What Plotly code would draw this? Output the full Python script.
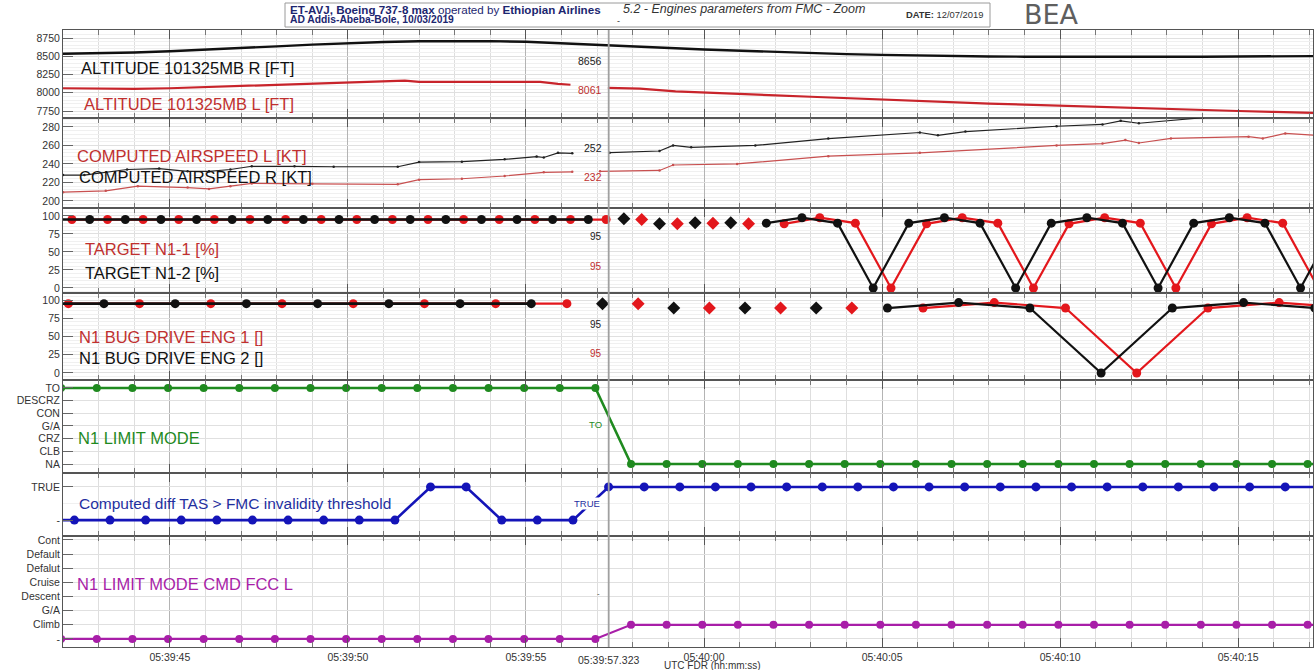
import pandas as pd
import plotly.graph_objects as go
from plotly.subplots import make_subplots

BASE = pd.Timestamp("2019-03-10 05:39:00")
CURSOR = 57.323

# ---------------- data (seconds after 05:39:00) ----------------
ALT_R_T = [42.0, 43.0, 44.0, 45.0, 46.0, 47.0, 48.0, 49.0, 50.0, 51.0, 52.0, 53.0, 54.0, 55.0, 55.4, 56.0, 57.0,
           57.3, 58.0, 59.2, 60.0, 61.0, 62.0, 63.0, 64.0, 65.0, 66.0, 67.0, 68.0, 69.0, 70.0, 71.0, 72.0, 73.0,
           74.0, 75.0, 76.0, 77.1]
ALT_R = [8535, 8540, 8552, 8568, 8588, 8612, 8636, 8660, 8680, 8696, 8706, 8710, 8708, 8698, 8690, 8677, 8662,
         8656, 8640, 8609, 8592, 8574, 8558, 8543, 8530, 8519, 8510, 8502, 8497, 8494, 8492, 8492, 8493, 8492,
         8494, 8497, 8500, 8502]

ALT_L_T = [42.0, 43.0, 44.0, 45.0, 46.0, 47.0, 48.0, 49.0, 50.0, 51.0, 51.6, 52.0, 53.0, 54.0, 55.0, 55.4, 55.9, 56.25]
ALT_L = [8062, 8060, 8052, 8062, 8078, 8095, 8110, 8124, 8138, 8150, 8165, 8150, 8152, 8152, 8150, 8148, 8122, 8110]
ALT_L2_T = [57.3, 58.2, 59.2, 60.0, 61.0, 62.0, 63.0, 64.0, 65.0, 66.0, 67.0, 68.0, 69.0, 70.0, 71.0, 72.0,
            73.0, 74.0, 75.0, 76.0, 77.1]
ALT_L2 = [8066, 8056, 8018, 8005, 7985, 7965, 7945, 7925, 7905, 7888, 7870, 7852, 7838, 7822, 7806, 7792,
          7778, 7764, 7750, 7738, 7725]

CAS_R_T = [42.0, 42.6, 43.8, 44.7, 45.5, 46.1, 46.7, 47.3, 48.5, 49.6, 51.4, 52.0, 53.2, 54.4, 55.3, 55.5, 55.9, 56.3]
CAS_R = [228, 228, 234, 235, 232, 232, 234, 237.5, 237.5, 237, 237, 242, 242.5, 245, 248, 247, 252, 251.5]
CAS_R2_T = [57.35, 58.75, 59.13, 59.64, 61.44, 63.49, 66.06, 66.57, 67.34, 69.9, 71.19, 71.7, 72.21, 74.01]
CAS_R2 = [252.2, 254, 260, 258, 260, 267.5, 274, 271, 275, 280.8, 282.7, 286.6, 284, 290]

CAS_L_T = [42.0, 43.2, 44.1, 45.5, 46.1, 46.7, 47.3, 49.0, 51.4, 52.0, 53.2, 54.4, 55.5, 56.3]
CAS_L = [209.5, 211, 216, 214.5, 213, 216, 219, 218.5, 218, 223, 224, 227, 231, 231.5]
CAS_L2_T = [57.08, 58.75, 59.13, 60.93, 63.49, 66.06, 69.9, 71.19, 71.83, 72.21, 73.11, 75.29, 75.69, 76.32, 77.19]
CAS_L2 = [232, 233, 238.9, 240, 248.4, 252, 260, 262, 265.8, 262.7, 267.6, 269.5, 267.6, 273, 271]

# TARGET N1
TN1_RED_T = [42.25, 43.25, 44.25, 45.25, 46.25, 47.25, 48.25, 49.25, 50.25, 51.25, 52.25, 53.25, 54.25, 55.25,
             56.25, 57.25]
TN1_RED = [95, 95, 95, 95, 95, 95, 95, 95, 95, 95, 95, 95, 95, 95, 95, 95]
TN1_BLK_T = [41.75, 42.75, 43.75, 44.75, 45.75, 46.75, 47.75, 48.75, 49.75, 50.75, 51.75, 52.75, 53.75, 54.75,
             55.75, 56.75]
TN1_BLK = [95, 95, 95, 95, 95, 95, 95, 95, 95, 95, 95, 95, 95, 95, 95, 95]
TN1_BLK_D_T = [57.75, 58.75, 59.75, 60.75]
TN1_BLK_D = [96, 89, 90.5, 90.5]
TN1_RED_D_T = [58.25, 59.25, 60.25, 61.25]
TN1_RED_D = [95, 89, 90, 89]
TN1_BLK_L_T = [61.75, 62.75, 63.75, 64.75, 65.75, 66.75, 67.75, 68.75, 69.75, 70.75, 71.75, 72.75, 73.75, 74.75,
               75.75, 76.75, 77.75]
TN1_BLK_L = [90, 97.5, 90, 0, 90, 97.5, 90, 0, 90, 97.5, 90, 0, 90, 97.5, 90, 0, 90]
TN1_RED_L_T = [62.25, 63.25, 64.25, 65.25, 66.25, 67.25, 68.25, 69.25, 70.25, 71.25, 72.25, 73.25, 74.25, 75.25,
               76.25, 77.25]
TN1_RED_L = [89, 97.5, 90, 0, 89, 97.5, 90, 0, 89, 97.5, 90, 0, 89, 97.5, 90, 0]

# N1 BUG DRIVE
BUG_RED_T = [42.15, 44.15, 46.15, 48.15, 50.15, 52.15, 54.15, 56.15]
BUG_RED = [95, 95, 95, 95, 95, 95, 95, 95]
BUG_BLK_T = [41.15, 43.15, 45.15, 47.15, 49.15, 51.15, 53.15, 55.15]
BUG_BLK = [95, 95, 95, 95, 95, 95, 95, 95]
BUG_BLK_D_T = [57.15, 59.15, 61.15, 63.15]
BUG_BLK_D = [95, 89, 89, 89]
BUG_RED_D_T = [58.15, 60.15, 62.15, 64.15]
BUG_RED_D = [95, 89, 89, 89]
BUG_BLK_L_T = [65.15, 67.15, 69.15, 71.15, 73.15, 75.15, 77.15]
BUG_BLK_L = [89, 96.5, 89, 0, 89, 96.5, 89]
BUG_RED_L_T = [66.15, 68.15, 70.15, 72.15, 74.15, 76.15, 78.15]
BUG_RED_L = [89, 96.5, 89, 0, 89, 96.5, 89]

# N1 LIMIT MODE
LIM_CATS = ["NA", "CLB", "CRZ", "G/A", "CON", "DESCRZ", "TO"]
LIM_T = [41.95, 42.95, 43.95, 44.95, 45.95, 46.95, 47.95, 48.95, 49.95, 50.95, 51.95, 52.95, 53.95, 54.95, 55.95,
         56.95, 57.95, 58.95, 59.95, 60.95, 61.95, 62.95, 63.95, 64.95, 65.95, 66.95, 67.95, 68.95, 69.95, 70.95,
         71.95, 72.95, 73.95, 74.95, 75.95, 76.95, 77.95]
LIM = ["TO", "TO", "TO", "TO", "TO", "TO", "TO", "TO", "TO", "TO", "TO", "TO", "TO", "TO", "TO", "TO",
       "NA", "NA", "NA", "NA", "NA", "NA", "NA", "NA", "NA", "NA", "NA", "NA", "NA", "NA", "NA", "NA", "NA",
       "NA", "NA", "NA", "NA"]

# Computed diff TAS > FMC invalidity threshold
TAS_CATS = ["-", "TRUE"]
TAS_T = [41.32, 42.32, 43.32, 44.32, 45.32, 46.32, 47.32, 48.32, 49.32, 50.32, 51.32, 52.32, 53.32, 54.32, 55.32,
         56.32, 57.32, 58.32, 59.32, 60.32, 61.32, 62.32, 63.32, 64.32, 65.32, 66.32, 67.32, 68.32, 69.32, 70.32,
         71.32, 72.32, 73.32, 74.32, 75.32, 76.32, 77.32]
TAS = ["-", "-", "-", "-", "-", "-", "-", "-", "-", "-", "-", "TRUE", "TRUE", "-", "-", "-",
       "TRUE", "TRUE", "TRUE", "TRUE", "TRUE", "TRUE", "TRUE", "TRUE", "TRUE", "TRUE", "TRUE", "TRUE", "TRUE",
       "TRUE", "TRUE", "TRUE", "TRUE", "TRUE", "TRUE", "TRUE", "TRUE"]

# N1 LIMIT MODE CMD FCC L
CMD_CATS = ["-", "Climb", "G/A", "Descent", "Cruise", "Defalut", "Default", "Cont"]
CMD_T = LIM_T
CMD = ["-", "-", "-", "-", "-", "-", "-", "-", "-", "-", "-", "-", "-", "-", "-", "-",
       "Climb", "Climb", "Climb", "Climb", "Climb", "Climb", "Climb", "Climb", "Climb", "Climb", "Climb",
       "Climb", "Climb", "Climb", "Climb", "Climb", "Climb", "Climb", "Climb", "Climb", "Climb"]

X_TICK_LABELS_FMT = "%H:%M:%S"

# ---------------- helpers ----------------
def T(secs):
    return [(BASE + pd.Timedelta(seconds=s)).strftime("%Y-%m-%d %H:%M:%S.%f")[:-3] for s in secs]

W, H = 1316, 670
ML, MR, MT, MB = 63, 3, 30, 23
PW = W - ML - MR
PH = H - MT - MB


def px(x):
    return (x - ML) / PW


def py(y):
    return (H - MB - y) / PH


FONT = "Liberation Sans, Arial, sans-serif"
RED = "#e3171c"
RED_LINE = "#c8242b"
RED_TXT = "#c0302f"
BLK = "#111111"
GREEN = "#1f8a1f"
BLUE = "#1414b8"
MAG = "#a81ea8"

fig = make_subplots(rows=7, cols=1, shared_xaxes=True, vertical_spacing=0,
                    row_heights=[88, 90, 85, 87, 93, 63, 111])


def add(x, y, row, color, width=2, mode="lines", size=0, symbol="circle"):
    fig.add_trace(go.Scatter(x=T(x), y=y, mode=mode, line=dict(color=color, width=width),
                             marker=dict(size=size, color=color, symbol=symbol, line=dict(width=0)),
                             showlegend=False, hoverinfo="skip", cliponaxis=True), row=row, col=1)


# Panel 1: altitude
add(ALT_R_T, ALT_R, 1, BLK, 2.4)
add(ALT_L_T, ALT_L, 1, RED_LINE, 2.2)
add(ALT_L2_T, ALT_L2, 1, RED_LINE, 2.2)

# Panel 2: airspeed
add(CAS_R_T, CAS_R, 2, "#222222", 1.2, "lines+markers", 2.5)
add(CAS_R2_T, CAS_R2, 2, "#222222", 1.2, "lines+markers", 2.5)
add(CAS_L_T, CAS_L, 2, "#c85050", 1.2, "lines+markers", 2.5)
add(CAS_L2_T, CAS_L2, 2, "#c85050", 1.2, "lines+markers", 2.5)

# Panel 3: target N1
add(TN1_RED_T, TN1_RED, 3, RED, 2.2, "lines+markers", 9)
add(TN1_BLK_T, TN1_BLK, 3, BLK, 2.6, "lines+markers", 9)
add(TN1_BLK_D_T, TN1_BLK_D, 3, BLK, 0, "markers", 10, "diamond")
add(TN1_RED_D_T, TN1_RED_D, 3, RED, 0, "markers", 10, "diamond")
add(TN1_RED_L_T, TN1_RED_L, 3, RED, 2.2, "lines+markers", 9)
add(TN1_BLK_L_T, TN1_BLK_L, 3, BLK, 2.2, "lines+markers", 9)

# Panel 4: N1 bug drive
add(BUG_RED_T, BUG_RED, 4, RED, 2.2, "lines+markers", 9)
add(BUG_BLK_T, BUG_BLK, 4, BLK, 2.6, "lines+markers", 9)
add(BUG_BLK_D_T, BUG_BLK_D, 4, BLK, 0, "markers", 10, "diamond")
add(BUG_RED_D_T, BUG_RED_D, 4, RED, 0, "markers", 10, "diamond")
add(BUG_RED_L_T, BUG_RED_L, 4, RED, 2.2, "lines+markers", 9)
add(BUG_BLK_L_T, BUG_BLK_L, 4, BLK, 2.2, "lines+markers", 9)

# Panel 5-7: discrete
add(LIM_T, [LIM_CATS.index(v) for v in LIM], 5, GREEN, 2.6, "lines+markers", 8)
add(TAS_T, [TAS_CATS.index(v) for v in TAS], 6, BLUE, 2.6, "lines+markers", 9)
add(CMD_T, [CMD_CATS.index(v) for v in CMD], 7, MAG, 2.2, "lines+markers", 8)

# ---------------- axes ----------------
xr = T([42.0, 77.1])
t0 = T([45.0])[0]
for r in range(1, 8):
    fig.update_xaxes(row=r, col=1, type="date", range=xr, tick0=t0, dtick=5000, tickformat=X_TICK_LABELS_FMT,
                     showline=True, linecolor="#555", linewidth=1, mirror="ticks", ticks="inside", ticklen=9,
                     tickcolor="#555", showgrid=True, gridcolor="#b4b4b4", gridwidth=1, zeroline=False,
                     tickfont=dict(family=FONT, size=10.5, color="#333"),
                     minor=dict(tick0=t0, dtick=1000, ticks="inside", ticklen=5, tickcolor="#777",
                                showgrid=True, gridcolor="#dedede"))

YCONF = [
    dict(range=[7654, 8860], tickvals=[7750, 8000, 8250, 8500, 8750], minor=50),
    dict(range=[192.4, 289.7], tickvals=[200, 220, 240, 260, 280], minor=4),
    dict(range=[-7, 111], tickvals=[0, 25, 50, 75, 100], minor=5),
    dict(range=[-9.6, 109.6], tickvals=[0, 25, 50, 75, 100], minor=5),
    dict(range=[-0.71, 6.63], tickvals=list(range(7)), ticktext=LIM_CATS, minor=None),
    dict(range=[-0.48, 1.42], tickvals=[0, 1], ticktext=TAS_CATS, minor=0.5),
    dict(range=[-0.57, 7.28], tickvals=list(range(8)), ticktext=CMD_CATS, minor=None),
]
for r, c in enumerate(YCONF, start=1):
    kw = dict(range=c["range"], tickmode="array", tickvals=c["tickvals"], showline=True, linecolor="#555",
              linewidth=1, mirror=True, ticks="inside", ticklen=10, tickcolor="#666", showgrid=True,
              gridcolor="#e0e0e0", zeroline=False, tickfont=dict(family=FONT, size=10.5, color="#333"))
    if "ticktext" in c:
        kw["ticktext"] = c["ticktext"]
    if c["minor"]:
        kw["minor"] = dict(dtick=c["minor"], tick0=0, showgrid=True, gridcolor="#f0f0f0", ticks="")
    fig.update_yaxes(row=r, col=1, **kw)

# ---------------- shapes ----------------
shapes = [
    dict(type="line", xref="x", yref="paper", x0=T([CURSOR])[0], x1=T([CURSOR])[0], y0=0, y1=1,
         line=dict(color="#a0a0a0", width=1.8)),
    dict(type="rect", xref="paper", yref="paper", x0=px(285), x1=px(990), y0=py(27), y1=py(3),
         line=dict(color="#9a9a9a", width=1), fillcolor="white"),
]
fig.update_layout(shapes=shapes)

# ---------------- annotations ----------------
ann = []


def A(x, y, text, color="#111", size=10, xanchor="left", font=FONT, bg=None):
    d = dict(xref="paper", yref="paper", x=px(x), y=py(y), text=text, showarrow=False, xanchor=xanchor,
             yanchor="middle", font=dict(family=font, size=size, color=color), borderpad=0)
    if bg:
        d["bgcolor"] = bg
    ann.append(d)


NAVY = "#1c2670"
A(289, 9, "<b>ET-AVJ, Boeing 737-8 max</b> operated by <b>Ethiopian Airlines</b>", NAVY, 11.6)
A(289, 19.5, "<b>AD Addis-Abeba-Bole, 10/03/2019</b>", NAVY, 10.3)
A(622, 9, "<i>5.2 - Engines parameters from FMC - Zoom</i>", "#333", 12.5)
A(616, 21, "-", "#333", 9)
A(905, 15, "<b>DATE:</b> 12/07/2019", "#333", 9.4)
A(1051, 15, "BEA", "#5f5f5f", 27, "center", font="DejaVu Sans")

# series labels
A(80, 68, "ALTITUDE 101325MB R [FT]", BLK, 16.5)
A(83, 104, "ALTITUDE 101325MB L [FT]", RED_TXT, 16.5)
A(76, 156, "COMPUTED AIRSPEED L [KT]", RED_TXT, 16.5)
A(78, 177, "COMPUTED AIRSPEED R [KT]", BLK, 16.5)
A(84, 249, "TARGET N1-1 [%]", RED_TXT, 16.5)
A(84, 273, "TARGET N1-2 [%]", BLK, 16.5)
A(78, 337, "N1 BUG DRIVE ENG 1 []", RED_TXT, 16.5)
A(78, 358, "N1 BUG DRIVE ENG 2 []", BLK, 16.5)
A(77, 438, "N1 LIMIT MODE", GREEN, 16.5)
A(78, 503, "Computed diff TAS > FMC invalidity threshold", "#1f2f9f", 15.5)
A(76, 584, "N1 LIMIT MODE CMD FCC L", MAG, 16.5)

# cursor values
A(603, 61, "8656", "#222", 10.5, "right")
A(603, 90, "8061", RED_TXT, 10.5, "right")
A(603, 148, "252", "#222", 10.5, "right")
A(603, 177, "232", RED_TXT, 10.5, "right")
A(603, 236, "95", "#222", 10, "right")
A(603, 266, "95", RED_TXT, 10, "right")
A(603, 324, "95", "#222", 10, "right")
A(603, 354, "95", RED_TXT, 10, "right")
A(603, 425, "TO", GREEN, 9.5, "right")
A(601, 503, "TRUE", "#1f2f9f", 9.5, "right", bg="white")
A(601, 593, "-", "#444", 8, "right")

# x-axis title and cursor time label
A(712, 665, "UTC FDR (hh:mm:ss)", "#333", 10, "center")
ann.append(dict(xref="x", yref="paper", x=T([CURSOR])[0], y=py(660), text="05:39:57.323", showarrow=False,
                xanchor="center", yanchor="middle", font=dict(family=FONT, size=10.5, color="#333"),
                bgcolor="white", borderpad=0))

fig.update_layout(annotations=ann, width=W, height=H, margin=dict(l=ML, r=MR, t=MT, b=MB),
                  paper_bgcolor="white", plot_bgcolor="white", showlegend=False,
                  font=dict(family=FONT, size=10, color="#333"))

fig.write_html("out.html", config={"displayModeBar": False},
               post_script="document.body.style.margin='0px';")
